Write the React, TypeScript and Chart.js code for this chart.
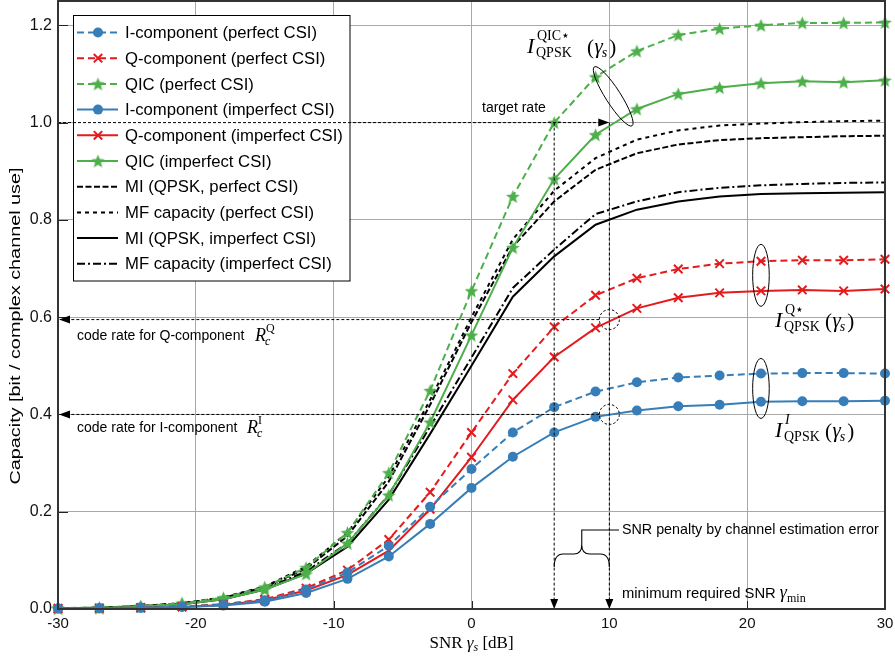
import React, { useEffect, useRef } from 'react';
import { Chart, registerables } from 'chart.js';

Chart.register(...registerables);

// ---------------- data ----------------
const SNR_DB = [-30, -27, -24, -21, -18, -15, -12, -9, -6, -3, 0, 3, 6, 9, 12, 15, 18, 21, 24, 27, 30];
const X_TICKS = [-30, -20, -10, 0, 10, 20, 30];
const Y_TICKS = [0, 0.2, 0.4, 0.6, 0.8, 1.0, 1.2];

const I_PERFECT = [0.001, 0.002, 0.003, 0.005, 0.009, 0.018, 0.04, 0.075, 0.13, 0.21, 0.288, 0.363, 0.415, 0.447, 0.466, 0.476, 0.48, 0.484, 0.485, 0.485, 0.484];
const Q_PERFECT = [0.001, 0.002, 0.003, 0.005, 0.01, 0.02, 0.043, 0.08, 0.143, 0.24, 0.363, 0.484, 0.58, 0.645, 0.68, 0.699, 0.71, 0.715, 0.717, 0.717, 0.719];
const QIC_PERFECT = [0.002, 0.003, 0.006, 0.012, 0.023, 0.045, 0.085, 0.157, 0.28, 0.449, 0.654, 0.848, 1.0, 1.094, 1.147, 1.18, 1.193, 1.2, 1.205, 1.205, 1.206];
const I_IMPERFECT = [0.001, 0.001, 0.002, 0.004, 0.007, 0.015, 0.033, 0.062, 0.108, 0.175, 0.249, 0.313, 0.363, 0.395, 0.408, 0.417, 0.42, 0.426, 0.427, 0.427, 0.428];
const Q_IMPERFECT = [0.001, 0.001, 0.002, 0.004, 0.008, 0.018, 0.038, 0.07, 0.12, 0.205, 0.312, 0.43, 0.518, 0.578, 0.618, 0.64, 0.65, 0.654, 0.656, 0.654, 0.658];
const QIC_IMPERFECT = [0.001, 0.002, 0.005, 0.01, 0.02, 0.04, 0.072, 0.135, 0.234, 0.384, 0.563, 0.743, 0.884, 0.975, 1.028, 1.059, 1.072, 1.081, 1.085, 1.083, 1.087];
const MI_PERFECT = [0.001, 0.003, 0.006, 0.012, 0.023, 0.045, 0.083, 0.15, 0.262, 0.42, 0.59, 0.745, 0.838, 0.903, 0.937, 0.955, 0.964, 0.968, 0.97, 0.972, 0.973];
const MF_PERFECT = [0.001, 0.003, 0.006, 0.012, 0.024, 0.046, 0.087, 0.157, 0.272, 0.43, 0.6, 0.76, 0.86, 0.927, 0.965, 0.984, 0.994, 0.998, 1.001, 1.003, 1.004];
const MI_IMPERFECT = [0.001, 0.002, 0.005, 0.01, 0.02, 0.04, 0.073, 0.128, 0.225, 0.36, 0.5, 0.642, 0.725, 0.79, 0.821, 0.838, 0.848, 0.853, 0.855, 0.856, 0.857];
const MF_IMPERFECT = [0.001, 0.002, 0.005, 0.011, 0.021, 0.042, 0.077, 0.135, 0.235, 0.375, 0.517, 0.66, 0.739, 0.812, 0.838, 0.857, 0.866, 0.871, 0.874, 0.876, 0.877];

const TARGET_RATE = 1.0;
const RATE_Q = 0.595;
const RATE_I = 0.4;
const SNR_MIN_PERFECT = 6;
const SNR_MIN_IMPERFECT = 10;

// ---------------- styles ----------------
const BLUE = '#377eb8';
const RED = '#e41a1c';
const GREEN = '#4daf4a';
const BLACK = '#000000';
const SANS = '"Liberation Sans", Arial, Helvetica, sans-serif';
const SERIF = '"Liberation Serif", "DejaVu Serif", "Times New Roman", serif';

const DASH_COLOR = [7, 4];

function makeStar(color: string) {
  const R = 7.2, r = 3.1;
  const s = 17;
  const c = document.createElement('canvas');
  c.width = s; c.height = s;
  const g = c.getContext('2d')!;
  g.beginPath();
  for (let k = 0; k < 10; k++) {
    const rad = k % 2 ? r : R;
    const a = -Math.PI / 2 + (k * Math.PI) / 5;
    g.lineTo(s / 2 + rad * Math.cos(a), s / 2 + 0.6 + rad * Math.sin(a));
  }
  g.closePath();
  g.fillStyle = color;
  g.fill();
  return c;
}

type Marker = 'circle' | 'cross' | 'star' | 'none';
interface Series { label: string; values: number[]; color: string; dash: number[]; marker: Marker; }

const SERIES: Series[] = [
  { label: 'I-component (perfect CSI)', values: I_PERFECT, color: BLUE, dash: DASH_COLOR, marker: 'circle' },
  { label: 'Q-component (perfect CSI)', values: Q_PERFECT, color: RED, dash: DASH_COLOR, marker: 'cross' },
  { label: 'QIC (perfect CSI)', values: QIC_PERFECT, color: GREEN, dash: DASH_COLOR, marker: 'star' },
  { label: 'I-component (imperfect CSI)', values: I_IMPERFECT, color: BLUE, dash: [], marker: 'circle' },
  { label: 'Q-component (imperfect CSI)', values: Q_IMPERFECT, color: RED, dash: [], marker: 'cross' },
  { label: 'QIC (imperfect CSI)', values: QIC_IMPERFECT, color: GREEN, dash: [], marker: 'star' },
  { label: 'MI (QPSK, perfect CSI)', values: MI_PERFECT, color: BLACK, dash: [6, 2.5], marker: 'none' },
  { label: 'MF capacity (perfect CSI)', values: MF_PERFECT, color: BLACK, dash: [4, 4], marker: 'none' },
  { label: 'MI (QPSK, imperfect CSI)', values: MI_IMPERFECT, color: BLACK, dash: [], marker: 'none' },
  { label: 'MF capacity (imperfect CSI)', values: MF_IMPERFECT, color: BLACK, dash: [8, 3, 2, 3], marker: 'none' },
];

// ---------------- drawing helpers ----------------
function drawMarker(ctx: CanvasRenderingContext2D, m: Marker, color: string, x: number, y: number, star: HTMLCanvasElement) {
  if (m === 'circle') {
    ctx.beginPath(); ctx.arc(x, y, 5, 0, Math.PI * 2); ctx.fillStyle = color; ctx.fill();
  } else if (m === 'cross') {
    ctx.setLineDash([]); ctx.strokeStyle = color; ctx.lineWidth = 2;
    const d = 4.2;
    ctx.beginPath(); ctx.moveTo(x - d, y - d); ctx.lineTo(x + d, y + d); ctx.moveTo(x + d, y - d); ctx.lineTo(x - d, y + d); ctx.stroke();
  } else if (m === 'star') {
    ctx.drawImage(star, x - star.width / 2, y - star.height / 2);
  }
}

function dashedLine(ctx: CanvasRenderingContext2D, x1: number, y1: number, x2: number, y2: number) {
  ctx.save();
  ctx.strokeStyle = '#000'; ctx.lineWidth = 1; ctx.setLineDash([3, 2]);
  ctx.beginPath(); ctx.moveTo(x1, y1); ctx.lineTo(x2, y2); ctx.stroke();
  ctx.restore();
}

function arrowHead(ctx: CanvasRenderingContext2D, tx: number, ty: number, dir: 'right' | 'left' | 'down', len = 10, hw = 4) {
  ctx.save();
  ctx.fillStyle = '#000';
  ctx.beginPath();
  if (dir === 'right') { ctx.moveTo(tx, ty); ctx.lineTo(tx - len, ty - hw); ctx.lineTo(tx - len, ty + hw); }
  if (dir === 'left') { ctx.moveTo(tx, ty); ctx.lineTo(tx + len, ty - hw); ctx.lineTo(tx + len, ty + hw); }
  if (dir === 'down') { ctx.moveTo(tx, ty); ctx.lineTo(tx - hw, ty - len); ctx.lineTo(tx + hw, ty - len); }
  ctx.closePath(); ctx.fill();
  ctx.restore();
}

function drawIQPSK(ctx: CanvasRenderingContext2D, x: number, base: number, sup: string, supItalic: boolean, parenOffset: number) {
  ctx.textAlign = 'left'; ctx.textBaseline = 'alphabetic'; ctx.fillStyle = '#000';
  ctx.font = `italic 22px ${SERIF}`;
  ctx.fillText('I', x, base);
  ctx.font = `14px ${SERIF}`;
  ctx.fillText('QPSK', x + 9, base + 4);
  ctx.font = `${supItalic ? 'italic ' : ''}14px ${SERIF}`;
  ctx.fillText(sup, x + 10, base - 13);
  let px = x + parenOffset;
  ctx.font = `21px ${SERIF}`;
  ctx.fillText('(', px, base + 1); px += ctx.measureText('(').width + 0.5;
  ctx.font = `italic 21px ${SERIF}`;
  ctx.fillText('γ', px, base); px += ctx.measureText('γ').width - 1;
  ctx.font = `italic 14px ${SERIF}`;
  ctx.fillText('s', px, base + 4); px += ctx.measureText('s').width + 2;
  ctx.font = `21px ${SERIF}`;
  ctx.fillText(')', px, base + 1);
}

function drawRc(ctx: CanvasRenderingContext2D, x: number, base: number, sup: string) {
  ctx.textAlign = 'left'; ctx.textBaseline = 'alphabetic'; ctx.fillStyle = '#000';
  ctx.font = `italic 18px ${SERIF}`;
  ctx.fillText('R', x, base);
  const w = ctx.measureText('R').width;
  ctx.font = `italic 12px ${SERIF}`;
  ctx.fillText('c', x + w - 1, base + 4);
  ctx.font = `12px ${SERIF}`;
  ctx.fillText(sup, x + w, base - 9);
}

function ellipse(ctx: CanvasRenderingContext2D, cx: number, cy: number, rx: number, ry: number, rot: number, dashed = false) {
  ctx.save();
  ctx.strokeStyle = '#000'; ctx.lineWidth = 1;
  ctx.setLineDash(dashed ? [2.5, 2] : []);
  ctx.beginPath(); ctx.ellipse(cx, cy, rx, ry, rot, 0, Math.PI * 2); ctx.stroke();
  ctx.restore();
}

function zeroPadding(s: any) {
  s.paddingTop = 0; s.paddingBottom = 0; s.paddingLeft = 0; s.paddingRight = 0;
}

// ---------------- component ----------------
export default function App() {
  const ref = useRef<HTMLCanvasElement>(null);

  useEffect(() => {
    document.body.style.margin = '0';
    const star = makeStar(GREEN);

    const overlay = {
      id: 'overlay',
      afterDraw(chart: any) {
        const ctx: CanvasRenderingContext2D = chart.ctx;
        const ca = chart.chartArea;
        const xs = chart.scales.x, ys = chart.scales.y;
        const X = (v: number) => xs.getPixelForValue(v);
        const Y = (v: number) => ys.getPixelForValue(v);
        ctx.save();

        // inward ticks
        ctx.strokeStyle = '#222'; ctx.lineWidth = 1; ctx.setLineDash([]);
        ctx.beginPath();
        Y_TICKS.forEach(v => { const py = Math.round(Y(v)) + 0.5; ctx.moveTo(ca.left, py); ctx.lineTo(ca.left + 10, py); });
        X_TICKS.forEach(v => { const px = Math.round(X(v)) + 0.5; ctx.moveTo(px, ca.bottom); ctx.lineTo(px, ca.bottom - 8); });
        ctx.stroke();

        // legend
        const lx = 73.5, ly = 15.5, lw = 276.5, lh = 265.5;
        ctx.fillStyle = '#fff'; ctx.fillRect(lx, ly, lw, lh);
        ctx.strokeStyle = '#000'; ctx.lineWidth = 1; ctx.strokeRect(lx, ly, lw, lh);
        SERIES.forEach((s, i) => {
          const cy = 32.5 + i * 25.7;
          ctx.save();
          ctx.strokeStyle = s.color; ctx.lineWidth = 2; ctx.setLineDash(s.dash);
          ctx.beginPath(); ctx.moveTo(77, cy); ctx.lineTo(118, cy); ctx.stroke();
          ctx.restore();
          drawMarker(ctx, s.marker, s.color, 98, cy, star);
          ctx.fillStyle = '#000'; ctx.font = `16.7px ${SANS}`; ctx.textAlign = 'left'; ctx.textBaseline = 'middle';
          ctx.fillText(s.label, 125, cy + 1);
        });

        // target rate line and arrows
        dashedLine(ctx, ca.left, Y(TARGET_RATE), X(SNR_MIN_IMPERFECT) - 8, Y(TARGET_RATE));
        arrowHead(ctx, X(SNR_MIN_IMPERFECT), Y(TARGET_RATE), 'right', 11, 4);
        ctx.fillStyle = '#000'; ctx.font = `14px ${SANS}`; ctx.textAlign = 'left'; ctx.textBaseline = 'alphabetic';
        ctx.fillText('target rate', 482, Y(TARGET_RATE) - 11);

        // vertical lines
        [SNR_MIN_PERFECT, SNR_MIN_IMPERFECT].forEach(v => {
          dashedLine(ctx, X(v), Y(TARGET_RATE), X(v), ca.bottom - 8);
          arrowHead(ctx, X(v), ca.bottom, 'down', 10, 4);
        });

        // code rate lines
        [RATE_Q, RATE_I].forEach(r => {
          dashedLine(ctx, X(SNR_MIN_IMPERFECT) - 10, Y(r), ca.left + 10, Y(r));
          arrowHead(ctx, ca.left + 1, Y(r), 'left', 11, 4);
          ellipse(ctx, X(SNR_MIN_IMPERFECT), Y(r), 10, 10, 0, true);
        });
        ctx.fillStyle = '#000'; ctx.font = `14px ${SANS}`; ctx.textAlign = 'left'; ctx.textBaseline = 'alphabetic';
        ctx.fillText('code rate for Q-component', 77, Y(RATE_Q) + 20);
        drawRc(ctx, 255, Y(RATE_Q) + 21, 'Q');
        ctx.fillStyle = '#000'; ctx.font = `14px ${SANS}`;
        ctx.fillText('code rate for I-component', 77, Y(RATE_I) + 18);
        drawRc(ctx, 247, Y(RATE_I) + 19, 'I');

        // ellipses around curve groups
        ellipse(ctx, X(10.28), Y(1.054), 35, 7.5, (57.4 * Math.PI) / 180);
        ellipse(ctx, X(21), Y(0.686), 8.3, 31, 0);
        ellipse(ctx, X(21), Y(0.4535), 8.3, 30, 0);

        // math labels
        drawIQPSK(ctx, 527, 53, 'QIC⋆', false, 60);
        drawIQPSK(ctx, 775, 327, 'Q⋆', false, 50);
        drawIQPSK(ctx, 775, 437, 'I', true, 50);

        // brace
        const xl = X(SNR_MIN_PERFECT), xr = X(SNR_MIN_IMPERFECT), xm = (xl + xr) / 2;
        const yb = 567, yh = 554, yt = 545, yl = 530;
        ctx.save();
        ctx.strokeStyle = '#000'; ctx.lineWidth = 1.1; ctx.setLineDash([]);
        ctx.beginPath();
        ctx.moveTo(xl, yb); ctx.quadraticCurveTo(xl, yh, xl + 9, yh); ctx.lineTo(xm - 8, yh); ctx.quadraticCurveTo(xm, yh, xm, yt);
        ctx.moveTo(xr, yb); ctx.quadraticCurveTo(xr, yh, xr - 9, yh); ctx.lineTo(xm + 8, yh); ctx.quadraticCurveTo(xm, yh, xm, yt);
        ctx.moveTo(xm, yt); ctx.lineTo(xm, yl); ctx.lineTo(619, yl);
        ctx.stroke();
        ctx.restore();
        ctx.fillStyle = '#000'; ctx.font = `14.3px ${SANS}`; ctx.textAlign = 'left'; ctx.textBaseline = 'middle';
        ctx.fillText('SNR penalty by channel estimation error', 622, yl);
        ctx.textBaseline = 'alphabetic';
        ctx.font = `14.8px ${SANS}`;
        const t1 = 'minimum required SNR ';
        ctx.fillText(t1, 622, 598);
        let gx = 622 + ctx.measureText(t1).width;
        ctx.font = `italic 18px ${SERIF}`;
        ctx.fillText('γ', gx, 598); gx += ctx.measureText('γ').width;
        ctx.font = `12px ${SERIF}`;
        ctx.fillText('min', gx, 602);

        // frame
        ctx.strokeStyle = '#333'; ctx.lineWidth = 2; ctx.setLineDash([]);
        ctx.strokeRect(ca.left, ca.top, ca.right - ca.left, ca.bottom - ca.top);

        // axis titles
        ctx.save();
        ctx.fillStyle = '#000';
        ctx.translate(16, 326);
        ctx.rotate(-Math.PI / 2);
        ctx.font = `15px ${SANS}`;
        const yt1 = 'Capacity [bit / complex channel use]';
        const w0 = ctx.measureText(yt1).width;
        ctx.scale(317 / w0, 1);
        ctx.textAlign = 'center'; ctx.textBaseline = 'middle';
        ctx.fillText(yt1, 0, 0);
        ctx.restore();

        ctx.fillStyle = '#000'; ctx.textAlign = 'left'; ctx.textBaseline = 'alphabetic';
        const parts: [string, string, number][] = [
          ['SNR ', `17px ${SERIF}`, 0],
          ['γ', `italic 17px ${SERIF}`, 0],
          ['s', `italic 12px ${SERIF}`, 3],
          [' [dB]', `17px ${SERIF}`, 0],
        ];
        let tw = 0;
        parts.forEach(p => { ctx.font = p[1]; tw += ctx.measureText(p[0]).width; });
        let tx = X(0) - tw / 2;
        parts.forEach(p => { ctx.font = p[1]; ctx.fillText(p[0], tx, 648 + p[2]); tx += ctx.measureText(p[0]).width; });

        ctx.restore();
      },
    };

    const datasets = SERIES.map(s => ({
      label: s.label,
      data: SNR_DB.map((x, i) => ({ x, y: s.values[i] })),
      borderColor: s.color,
      backgroundColor: s.color,
      borderWidth: 2,
      borderDash: s.dash,
      fill: false,
      tension: 0,
      clip: false as any,
      pointStyle: s.marker === 'star' ? star : s.marker === 'cross' ? 'crossRot' : 'circle',
      pointRadius: s.marker === 'none' ? 0 : s.marker === 'cross' ? 6 : 5,
      pointBorderWidth: s.marker === 'cross' ? 2 : 0,
      pointBorderColor: s.color,
      pointBackgroundColor: s.color,
      pointHoverRadius: 0,
    }));

    const chart = new Chart(ref.current!, {
      type: 'line',
      data: { datasets: datasets as any },
      options: {
        responsive: false,
        animation: false,
        devicePixelRatio: 1,
        layout: { autoPadding: false, padding: { top: 1, right: 10, left: 0, bottom: 0 } },
        plugins: { legend: { display: false }, tooltip: { enabled: false }, title: { display: false } },
        events: [],
        scales: {
          x: {
            type: 'linear', min: -30, max: 30,
            afterBuildTicks: (s: any) => { s.ticks = X_TICKS.map(v => ({ value: v })); },
            afterFit: (s: any) => { s.height = 50; zeroPadding(s); },
            grid: { color: '#a8a8a8', lineWidth: 1, drawTicks: false },
            border: { display: false },
            ticks: { font: { family: SANS, size: 15 }, color: '#111', padding: 6, maxRotation: 0, autoSkip: false, callback: (v: any) => String(v) },
          },
          y: {
            type: 'linear', min: 0, max: 1.25,
            afterBuildTicks: (s: any) => { s.ticks = Y_TICKS.map(v => ({ value: v })); },
            afterFit: (s: any) => { s.width = 58; zeroPadding(s); },
            grid: { color: '#a8a8a8', lineWidth: 1, drawTicks: false },
            border: { display: false },
            ticks: { font: { family: SANS, size: 16 }, color: '#111', padding: 6, autoSkip: false, callback: (v: any) => Number(v).toFixed(1) },
          },
        },
      },
      plugins: [overlay],
    });
    return () => chart.destroy();
  }, []);

  return (
    <div style={{ width: 895, height: 659 }}>
      <canvas ref={ref} width={895} height={659} style={{ display: 'block' }} />
    </div>
  );
}
